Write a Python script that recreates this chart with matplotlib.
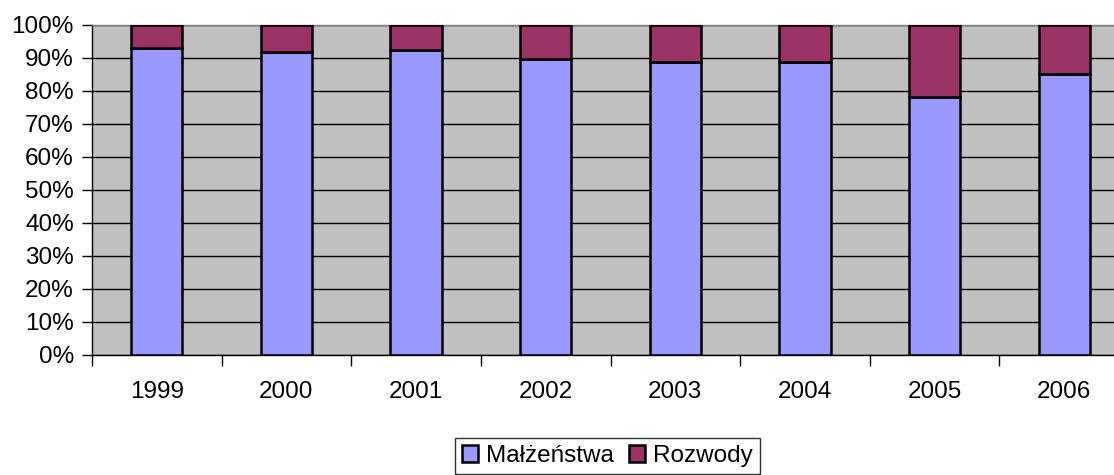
import matplotlib
matplotlib.use("Agg")
import matplotlib.pyplot as plt
import numpy as np
from matplotlib.ticker import FuncFormatter, FixedLocator

years = ["1999", "2000", "2001", "2002", "2003", "2004", "2005", "2006"]
malzenstwa = [92.9, 91.8, 92.4, 89.5, 88.8, 88.8, 78.2, 85.2]
rozwody = [100 - v for v in malzenstwa]
labels = ["Małżeństwa", "Rozwody"]

plt.rcParams['font.family'] = ['Liberation Sans', 'DejaVu Sans']

W, H = 1114, 475
fs = 17.5
fig = plt.figure(figsize=(W / 100, H / 100), dpi=100)
left, right, top, bottom = 92, 1129, 24.7, 354.7
ax = fig.add_axes([left / W, (H - bottom) / H, (right - left) / W, (bottom - top) / H])
ax.set_facecolor('#C0C0C0')

x = np.arange(len(years))
bw = 0.395
b1 = ax.bar(x, malzenstwa, bw, color='#9999FF', edgecolor='black', linewidth=1.8, label=labels[0], zorder=3)
b2 = ax.bar(x, rozwody, bw, bottom=malzenstwa, color='#993366', edgecolor='black', linewidth=1.8, label=labels[1], zorder=3)

ax.set_xlim(-0.5, len(years) - 0.5)
ax.set_ylim(0, 100)
ax.set_yticks(np.arange(0, 101, 10))
ax.yaxis.set_major_formatter(FuncFormatter(lambda v, p: f"{int(v)}%"))
ax.yaxis.grid(True, color='black', linewidth=1.0, zorder=0)
ax.set_axisbelow(True)

ax.set_xticks(x)
ax.set_xticklabels(years)
ax.xaxis.set_minor_locator(FixedLocator(np.arange(-0.5, len(years), 1.0)))
ax.tick_params(axis='x', which='major', length=0, pad=19, labelsize=fs)
ax.tick_params(axis='x', which='minor', length=8, width=1, direction='out')
ax.tick_params(axis='y', which='major', length=7, width=1, direction='out', pad=6, labelsize=fs)

ax.spines['top'].set_color('#808080')
ax.spines['top'].set_linewidth(1)
ax.spines['right'].set_visible(False)
for s in ['left', 'bottom']:
    ax.spines[s].set_color('black')
    ax.spines[s].set_linewidth(1)

leg = fig.legend(handles=[b1, b2], labels=labels, loc='center',
                 bbox_to_anchor=(607.5 / W, (H - 456) / H), ncol=2, frameon=True,
                 fontsize=fs, handlelength=0.65, handleheight=0.65, handletextpad=0.35,
                 columnspacing=0.6, borderpad=0.3, borderaxespad=0, fancybox=False, edgecolor='black')
leg.get_frame().set_linewidth(1)

fig.savefig('out.png', dpi=100)
